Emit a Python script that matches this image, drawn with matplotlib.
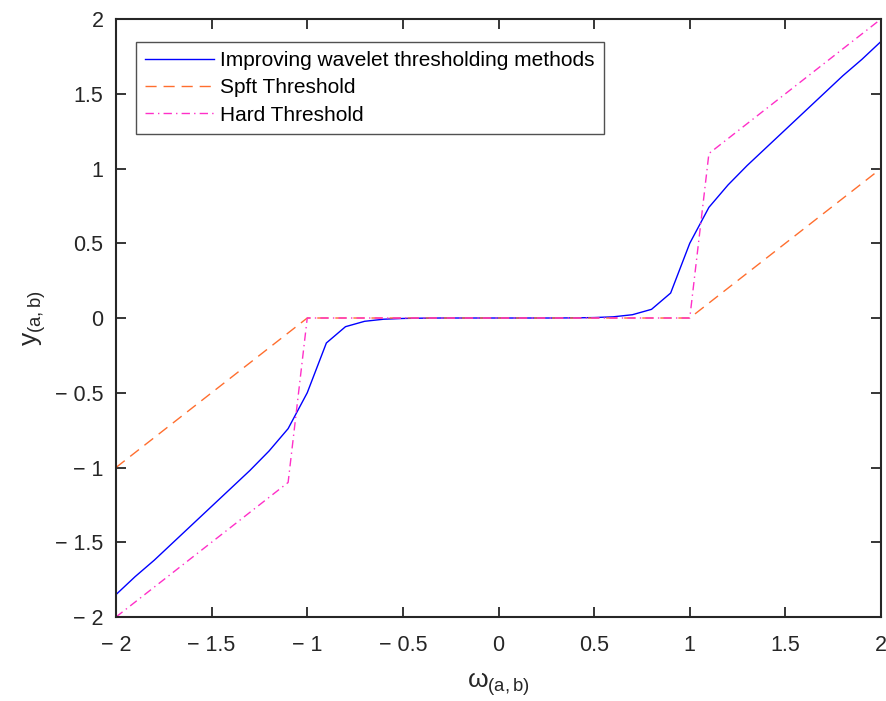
"""
Wavelet threshold functions: improved vs soft vs hard thresholding.
"""
import matplotlib
matplotlib.use("Agg")
import matplotlib.pyplot as plt

# ----- data -----
x = [-2.0, -1.9, -1.8, -1.7, -1.6, -1.5, -1.4, -1.3, -1.2, -1.1, -1.0,
     -0.9, -0.8, -0.7, -0.6, -0.5, -0.4, -0.3, -0.2, -0.1, 0.0,
     0.1, 0.2, 0.3, 0.4, 0.5, 0.6, 0.7, 0.8, 0.9, 1.0,
     1.1, 1.2, 1.3, 1.4, 1.5, 1.6, 1.7, 1.8, 1.9, 2.0]

improved = [-1.85, -1.73, -1.62, -1.50, -1.38, -1.26, -1.14, -1.02, -0.89, -0.74, -0.50,
            -0.167, -0.058, -0.022, -0.008, -0.003, -0.001, 0.0, 0.0, 0.0, 0.0,
            0.0, 0.0, 0.0, 0.001, 0.003, 0.008, 0.022, 0.058, 0.167, 0.50,
            0.74, 0.89, 1.02, 1.14, 1.26, 1.38, 1.50, 1.62, 1.73, 1.85]

soft = [-1.0, -0.9, -0.8, -0.7, -0.6, -0.5, -0.4, -0.3, -0.2, -0.1, 0.0,
        0.0, 0.0, 0.0, 0.0, 0.0, 0.0, 0.0, 0.0, 0.0, 0.0,
        0.0, 0.0, 0.0, 0.0, 0.0, 0.0, 0.0, 0.0, 0.0, 0.0,
        0.1, 0.2, 0.3, 0.4, 0.5, 0.6, 0.7, 0.8, 0.9, 1.0]

hard = [-2.0, -1.9, -1.8, -1.7, -1.6, -1.5, -1.4, -1.3, -1.2, -1.1, 0.0,
        0.0, 0.0, 0.0, 0.0, 0.0, 0.0, 0.0, 0.0, 0.0, 0.0,
        0.0, 0.0, 0.0, 0.0, 0.0, 0.0, 0.0, 0.0, 0.0, 0.0,
        1.1, 1.2, 1.3, 1.4, 1.5, 1.6, 1.7, 1.8, 1.9, 2.0]

ticks = [-2, -1.5, -1, -0.5, 0, 0.5, 1, 1.5, 2]
tick_labels = ["\u2212 2", "\u2212 1.5", "\u2212 1", "\u2212 0.5", "0",
               "0.5", "1", "1.5", "2"]

BLUE = "#0000FF"
ORANGE = "#FF6E2E"
PINK = "#FF2FC8"
DARK = "#262626"

plt.rcParams["font.family"] = ["Liberation Sans", "DejaVu Sans"]
plt.rcParams["mathtext.fontset"] = "custom"
plt.rcParams["mathtext.rm"] = "Liberation Sans"
plt.rcParams["mathtext.it"] = "Liberation Sans:italic"

fig = plt.figure(figsize=(8.86, 7.01), dpi=100)
ax = fig.add_axes([0.1309, 0.1198, 0.8635, 0.8531])

ax.plot(x, improved, color=BLUE, lw=1.0, label="Improving wavelet thresholding methods")
ax.plot(x, soft, color=ORANGE, lw=1.0, ls=(0, (8, 5)), label="Spft Threshold")
ax.plot(x, hard, color=PINK, lw=1.0, ls=(0, (6, 3, 1, 3)), label="Hard Threshold")

ax.set_xlim(-2, 2)
ax.set_ylim(-2, 2)
ax.set_xticks(ticks)
ax.set_xticklabels(tick_labels)
ax.set_yticks(ticks)
ax.set_yticklabels(tick_labels)
ax.tick_params(direction="in", length=7.5, width=1.3, labelsize=15.5,
               top=True, right=True, pad=9, colors=DARK)
ax.tick_params(axis="x", pad=13)

for sp in ax.spines.values():
    sp.set_linewidth(1.5)
    sp.set_color(DARK)

ax.set_xlabel("ω$_{\\mathrm{(a,b)}}$", fontsize=19, color=DARK, labelpad=10)
ax.set_ylabel("y$_{\\mathrm{(a,b)}}$", fontsize=19, color=DARK, labelpad=5)

leg = ax.legend(loc="upper left", bbox_to_anchor=(0.026, 0.962), fontsize=15,
                frameon=True, fancybox=False, handlelength=3.3, handletextpad=0.3,
                borderpad=0.45, labelspacing=0.4, borderaxespad=0)
leg.get_frame().set_edgecolor(DARK)
leg.get_frame().set_linewidth(1.0)

plt.savefig("out.png", dpi=100)
plt.close()
